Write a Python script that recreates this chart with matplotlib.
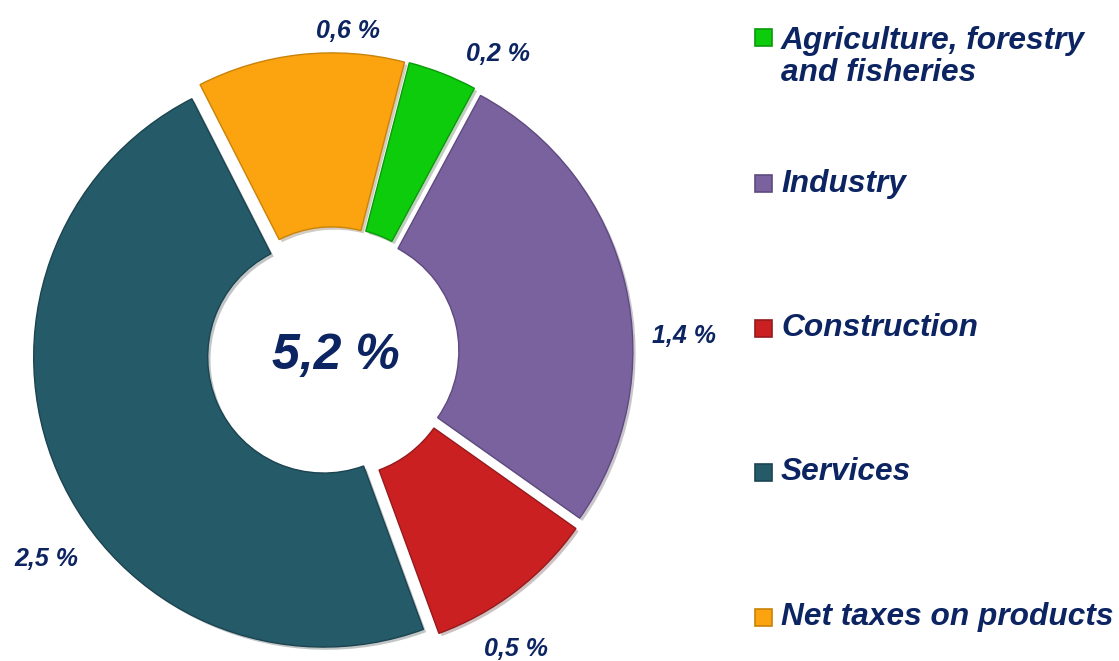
import matplotlib as mpl
mpl.use('agg')
import matplotlib.pyplot as plt
from matplotlib.patches import Rectangle
import matplotlib.patheffects as pe

plt.rcParams['font.family'] = ['Liberation Sans', 'DejaVu Sans']

sectors = ['Agriculture, forestry\nand fisheries', 'Industry', 'Construction',
           'Services', 'Net taxes on products']
values = [0.2, 1.4, 0.5, 2.5, 0.6]
value_labels = ['0,2 %', '1,4 %', '0,5 %', '2,5 %', '0,6 %']
total_label = '5,2 %'
colors = ['#0CCC0C', '#7A629E', '#CA2022', '#255A69', '#FCA310']
edges = ['#0A9A0A', '#5E4A80', '#961A1C', '#1B4450', '#C98308']
navy = '#0C2461'

# label spots around the ring (data units, radius 1)
label_pos = [(0.57, 1.03), (1.21, 0.06), (0.63, -1.02), (-0.99, -0.71), (0.05, 1.11)]

W, H = 1119, 661
fig = plt.figure(figsize=(W / 100, H / 100), dpi=100)
S = 290.0          # px per data unit
cx, cy = 333, 661 - 353
lim = 1.15
size = 2 * lim * S
ax = fig.add_axes([(cx - size / 2) / W, (cy - size / 2) / H, size / W, size / H])

wedges, _ = ax.pie(values, colors=colors, startangle=75.5, counterclock=False,
                   explode=[0.035] * len(values),
                   wedgeprops=dict(width=0.6, linewidth=1.0))
for w, ec in zip(wedges, edges):
    w.set_edgecolor(ec)
    w.set_path_effects([pe.SimplePatchShadow(offset=(2, -2), alpha=0.25), pe.Normal()])

ax.set_xlim(-lim, lim)
ax.set_ylim(-lim, lim)
ax.set_aspect('equal')
ax.axis('off')

for (x, y), t in zip(label_pos, value_labels):
    ax.text(x, y, t, ha='center', va='center', fontsize=18, fontweight='bold',
            fontstyle='italic', color=navy, clip_on=False)

ax.text(0.01, -0.01, total_label, ha='center', va='center', fontsize=36,
        fontweight='bold', fontstyle='italic', color=navy)

# legend drawn by hand
leg_y = [57, 184, 328, 472, 617]
mark_y = [37.5, 183, 328, 472, 617]
for lab, c, ec, ty, my in zip(sectors, colors, edges, leg_y, mark_y):
    fig.patches.append(Rectangle(((755) / W, (H - my - 8.5) / H), 17 / W, 17 / H,
                                 transform=fig.transFigure, facecolor=c,
                                 edgecolor=ec, linewidth=1.2))
    fig.text(781 / W, 1 - ty / H, lab, ha='left', va='center', fontsize=22.8,
             fontweight='bold', fontstyle='italic', color=navy, linespacing=1.08)

fig.savefig('out.png', dpi=100)
